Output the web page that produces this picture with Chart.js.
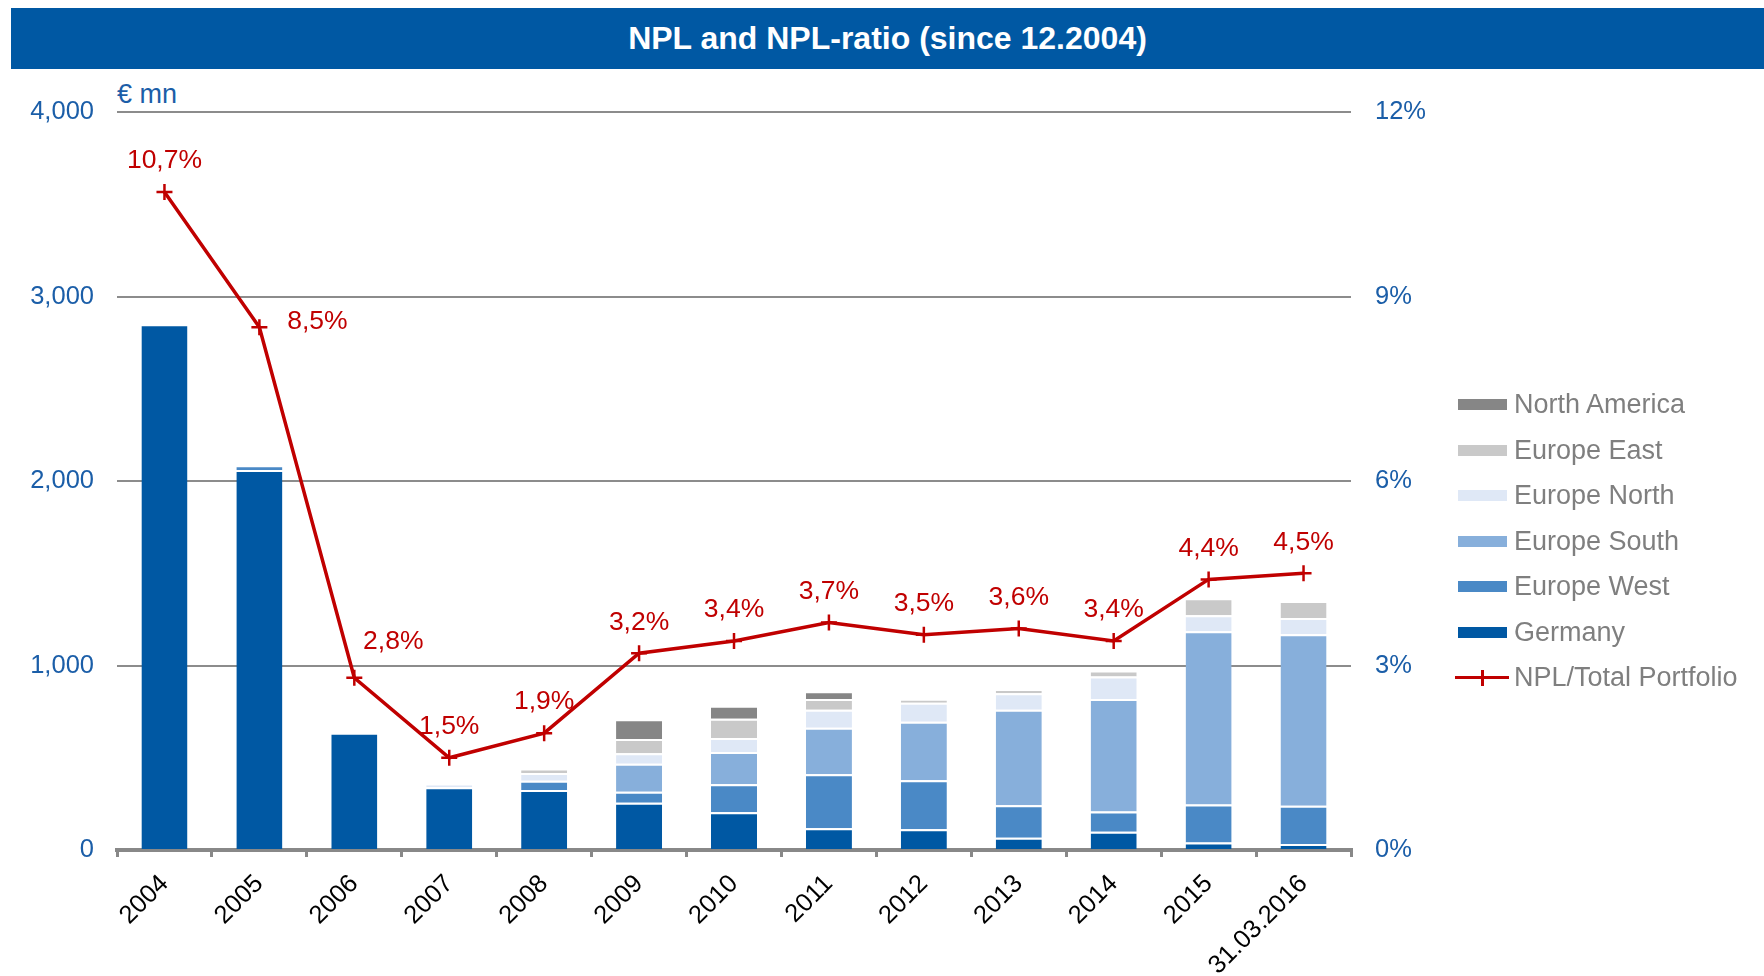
<!DOCTYPE html>
<html>
<head>
<meta charset="utf-8">
<title>NPL and NPL-ratio</title>
<script src="https://cdn.jsdelivr.net/npm/chart.js@4/dist/chart.umd.min.js"></script>
<style>
    html, body { margin: 0; padding: 0; background: #fff; }
    body { width: 1764px; height: 976px; position: relative; overflow: hidden; font-family: "Liberation Sans", Arial, sans-serif; }
    #nplChart { position: absolute; left: 0; top: 0; }
    .npl-title {
        position: absolute; left: 11px; top: 8px; width: 1753px; height: 61px;
        background: #0058a3; color: #fff; font-weight: bold; font-size: 32px;
        line-height: 61px; text-align: center; z-index: 2;
    }
    .npl-unit { position: absolute; left: 117px; top: 79px; font-size: 27px; color: #1b5ea8; }
    .npl-legend { position: absolute; left: 1455px; top: 382px; }
    .npl-legend-item { height: 45.5px; display: flex; align-items: center; font-size: 27px; color: #7f7f7f; }
    .npl-legend-box { width: 49px; height: 11px; margin: 0 7px 0 3px; }
    .npl-legend-line { width: 54px; height: 16px; margin-right: 5px; position: relative; }
    .npl-legend-line::before { content: ""; position: absolute; left: 0; right: 0; top: 6.5px; height: 3px; background: #c00000; }
    .npl-legend-line::after { content: ""; position: absolute; left: 25.5px; top: 0; width: 3px; height: 16px; background: #c00000; }
</style>
</head>
<body>
<div class="npl-title">NPL and NPL-ratio (since 12.2004)</div>
<div class="npl-unit">€ mn</div>
<canvas id="nplChart" width="1764" height="976"></canvas>
<div class="npl-legend" id="nplLegend"></div>

<script>
const YEARS = ["2004", "2005", "2006", "2007", "2008", "2009", "2010", "2011", "2012", "2013", "2014", "2015", "31.03.2016"];

// NPL volume by region, € mn
const GERMANY       = [2850, 2060, 635, 340, 325, 256, 205, 118, 113, 67, 99, 40, 33];
const EUROPE_WEST   = [0, 25, 0, 0, 51, 60, 151, 293, 265, 175, 110, 207, 207];
const EUROPE_SOUTH  = [0, 0, 0, 0, 0, 151, 175, 251, 317, 518, 610, 938, 930];
const EUROPE_NORTH  = [0, 0, 0, 18, 42, 58, 76, 98, 103, 89, 121, 88, 88];
const EUROPE_EAST   = [0, 0, 0, 0, 24, 77, 104, 58, 22, 24, 33, 91, 92];
const NORTH_AMERICA = [0, 0, 0, 0, 0, 107, 71, 42, 0, 0, 0, 0, 0];

// NPL / total portfolio, %
const NPL_RATIO = [10.7, 8.5, 2.8, 1.5, 1.9, 3.2, 3.4, 3.7, 3.5, 3.6, 3.4, 4.4, 4.5];

const Y_TICKS = [0, 1000, 2000, 3000, 4000];
const Y1_TICKS = [0, 3, 6, 9, 12];

const FONT = "'Liberation Sans', Arial, sans-serif";
const BLUE_TEXT = "#1b5ea8";
const RED = "#c00000";
const GRID = "#8c8c8c";

const REGIONS = [
    { label: "Germany", data: GERMANY, color: "#0058a3" },
    { label: "Europe West", data: EUROPE_WEST, color: "#4a89c6" },
    { label: "Europe South", data: EUROPE_SOUTH, color: "#87afdb" },
    { label: "Europe North", data: EUROPE_NORTH, color: "#dfe8f6" },
    { label: "Europe East", data: EUROPE_EAST, color: "#c9c9c9" },
    { label: "North America", data: NORTH_AMERICA, color: "#868686" },
];

function formatPct(v) {
    return v.toFixed(1).replace(".", ",") + "%";
}

// ratio labels sit above each point; the steep start gets nudged right
const pointLabels = {
    id: "pointLabels",
    afterDatasetsDraw(chart, args, opts) {
        const idx = chart.data.datasets.findIndex((d) => d.type === "line");
        const meta = chart.getDatasetMeta(idx);
        const ctx = chart.ctx;
        ctx.save();
        ctx.font = opts.font;
        ctx.fillStyle = opts.color;
        ctx.textAlign = "center";
        ctx.textBaseline = "middle";
        meta.data.forEach((pt, i) => {
            const [dx, dy] = opts.offsets[i] || [0, -31];
            ctx.fillText(formatPct(NPL_RATIO[i]), pt.x + dx, pt.y + dy);
        });
        ctx.restore();
    },
};

function renderLegend() {
    const el = document.getElementById("nplLegend");
    const rows = REGIONS.slice().reverse().map((r) => `
        <div class="npl-legend-item"><span class="npl-legend-box" style="background:${r.color}"></span>${r.label}</div>
    `);
    rows.push(`<div class="npl-legend-item"><span class="npl-legend-line"></span>NPL/Total Portfolio</div>`);
    el.innerHTML = rows.join("");
}

function renderChart() {
    const barSets = REGIONS.map((r) => ({
        type: "bar",
        label: r.label,
        data: r.data,
        backgroundColor: r.color,
        borderColor: "#ffffff",
        borderWidth: { top: 2, right: 0, bottom: 0, left: 0 },
        borderSkipped: false,
        barPercentage: 0.485,
        categoryPercentage: 1,
        stack: "npl",
        yAxisID: "y",
        order: 1,
    }));

    const lineSet = {
        type: "line",
        label: "NPL/Total Portfolio",
        data: NPL_RATIO,
        yAxisID: "y1",
        borderColor: RED,
        borderWidth: 3.5,
        tension: 0,
        pointStyle: "cross",
        pointRadius: 8,
        pointBorderWidth: 2.5,
        pointBorderColor: RED,
        pointBackgroundColor: RED,
        order: 0,
    };

    new Chart(document.getElementById("nplChart"), {
        data: { labels: YEARS, datasets: [...barSets, lineSet] },
        plugins: [pointLabels],
        options: {
            responsive: false,
            animation: false,
            layout: { padding: { left: 0, right: 313, top: 112, bottom: 0 } },
            plugins: {
                legend: { display: false },
                tooltip: { enabled: false },
                pointLabels: {
                    font: `26.5px ${FONT}`,
                    color: RED,
                    offsets: { 1: [58, -6], 2: [39, -36] },
                },
            },
            scales: {
                x: {
                    stacked: true,
                    afterFit: (s) => { s.height = 126; },
                    border: { display: true, color: "#888888", width: 4 },
                    grid: { display: true, drawOnChartArea: false, drawTicks: true, tickLength: 7, lineWidth: 3, color: "#888888", offset: true },
                    ticks: {
                        autoSkip: false,
                        minRotation: 45,
                        maxRotation: 45,
                        padding: 12,
                        color: "#000000",
                        font: { family: FONT, size: 25.5 },
                    },
                },
                y: {
                    stacked: true,
                    position: "left",
                    min: Y_TICKS[0],
                    max: Y_TICKS[Y_TICKS.length - 1],
                    afterFit: (s) => { s.width = 117; },
                    afterBuildTicks: (s) => { s.ticks = Y_TICKS.map((v) => ({ value: v })); },
                    border: { display: false },
                    grid: { color: GRID, lineWidth: 2, drawTicks: false },
                    ticks: {
                        padding: 23,
                        color: BLUE_TEXT,
                        font: { family: FONT, size: 25.5 },
                        callback: (v) => v.toLocaleString("en-US"),
                    },
                },
                y1: {
                    position: "right",
                    min: Y1_TICKS[0],
                    max: Y1_TICKS[Y1_TICKS.length - 1],
                    afterFit: (s) => { s.width = 100; },
                    afterBuildTicks: (s) => { s.ticks = Y1_TICKS.map((v) => ({ value: v })); },
                    border: { display: false },
                    grid: { display: false, drawTicks: false },
                    ticks: {
                        padding: 24,
                        color: BLUE_TEXT,
                        font: { family: FONT, size: 25.5 },
                        callback: (v) => v + "%",
                    },
                },
            },
        },
    });
}

document.addEventListener("DOMContentLoaded", () => {
    renderLegend();
    renderChart();
});
</script>
</body>
</html>
